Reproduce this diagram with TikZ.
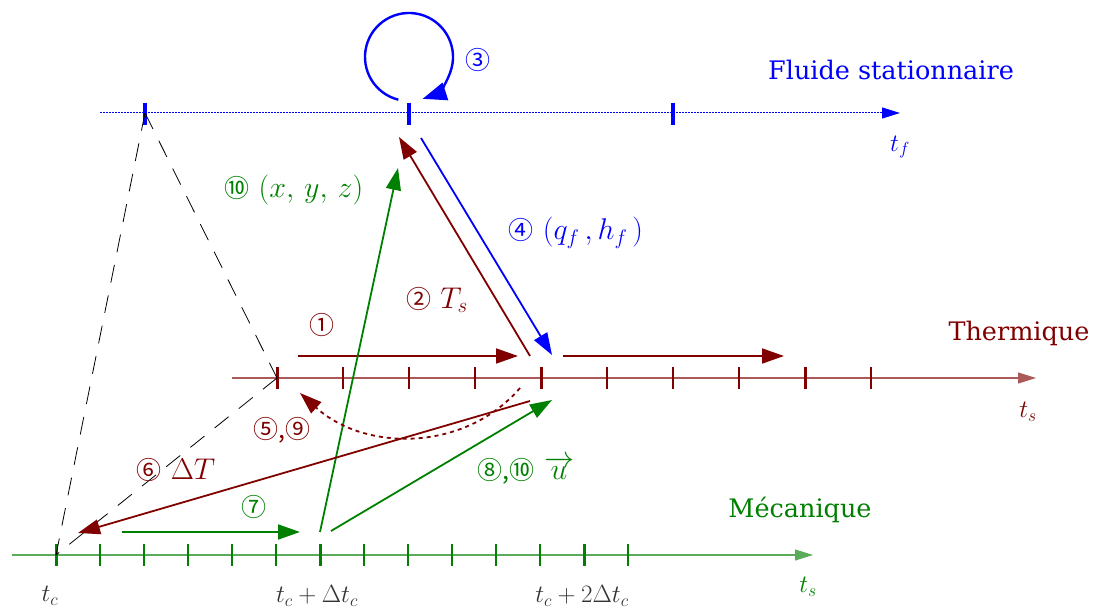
\RequirePackage{fix-cm}
\documentclass[tikz,border=0pt]{standalone}
\usepackage{fontspec}
\newfontfamily\cir{Noto Sans CJK SC}
\newfontfamily\wordfont{DejaVu Serif}
\usetikzlibrary{arrows.meta,calc}
\definecolor{fblue}{RGB}{0,0,255}
\definecolor{tred}{RGB}{128,0,0}
\definecolor{mgreen}{RGB}{0,128,0}
\newcommand{\cn}[1]{{\fontsize{25}{27}\selectfont\cir #1}}
\begin{document}
\begin{tikzpicture}[x=1pt,y=-1pt,
  arr/.style={line width=1.8pt,-{Triangle[length=22pt,width=15pt]}},
  axis/.style={line width=1.1pt,-{Triangle[length=18pt,width=11pt]}},
  bigtick/.style={line width=3pt},
  smalltick/.style={line width=1.4pt},
  guide/.style={black,line width=0.8pt,dash pattern=on 18pt off 13pt},
  word/.style={font=\fontsize{25.5}{28}\selectfont\wordfont},
  lab/.style={font=\fontsize{25}{28}\selectfont},
  mlab/.style={font=\fontsize{30}{32}\selectfont}]
\useasboundingbox (0,0) rectangle (1093,609);

% ---------- fluid axis ----------
\coordinate (fA) at (100,113);
\coordinate (fB) at (900,113);
\draw[fblue,line width=1pt,dash pattern=on 1.5pt off 1.5pt,-{Triangle[length=18pt,width=11pt]}] (fA) -- (fB);
\foreach \x/\n in {145/f1,409/f2,673/f3}{
  \coordinate (\n) at (\x,113);
  \draw[fblue,line width=4pt] (\x,103) -- (\x,125);
}
\node[lab,text=fblue] (tf) at (900,147) {$t_f$};
\node[word,text=fblue] (fluide) at (891,70) {Fluide stationnaire};

% ---------- thermal axis ----------
\coordinate (tA) at (232,378);
\coordinate (tB) at (1036,378);
\draw[axis,tred!65] (tA) -- (tB);
\foreach \x in {343,409,475,607,673,739,871}
  \draw[tred,smalltick] (\x,367) -- (\x,389);
\foreach \x/\n in {277/t0,541/t1,805/t2}{
  \coordinate (\n) at (\x,378);
  \draw[tred,bigtick] (\x,367) -- (\x,389);
}
\node[lab,text=tred] (ts1) at (1028,412) {$t_s$};
\node[word,text=tred] (thermique) at (1019,333) {Thermique};

% ---------- mechanical axis ----------
\coordinate (mA) at (12,555);
\coordinate (mB) at (813,555);
\draw[axis,mgreen!65] (mA) -- (mB);
\foreach \x in {100,144,188,232,276,364,408,452,496,540,628}
  \draw[mgreen,smalltick] (\x,544) -- (\x,566);
\foreach \x/\n in {56/m0,320/m1,584/m2}{
  \coordinate (\n) at (\x,555);
  \draw[mgreen,bigtick] (\x,544) -- (\x,566);
}
\node[lab,text=mgreen] (ts2) at (808,587) {$t_s$};
\node[word,text=mgreen] (meca) at (800,510) {Mécanique};
\node[lab,text=black!80] (l0) at (50,596) {$t_c$};
\node[lab,text=black!80] (l1) at (317,596) {$t_c+\Delta t_c$};
\node[lab,text=black!80] (l2) at (582,596) {$t_c+2\Delta t_c$};

% ---------- dashed guides ----------
\draw[guide] (f1) -- (m0);
\draw[guide] (f1) -- (t0);
\draw[guide] (t0) -- (m0);

% ---------- loop (3) ----------
\coordinate (loopc) at (409,57);
\draw[fblue,line width=2.4pt,-{Triangle[length=24pt,width=18pt]}]
  ($(loopc)+(104:44)$) arc[start angle=104,end angle=432,radius=44];
\node[text=fblue] (n3) at (478,60) {\cn{③}};

% ---------- endpoints ----------
\coordinate (a1s) at (298,356);  \coordinate (a1e) at (518,356);
\coordinate (a1bs) at (563,356); \coordinate (a1be) at (784,356);
\coordinate (a2s) at (530,356);  \coordinate (a2e) at (399,137);
\coordinate (a4s) at (421,138);  \coordinate (a4e) at (552,355);
\coordinate (a10s) at (320,532); \coordinate (a10e) at (398,168);
\coordinate (a5s) at (520,388);  \coordinate (a5e) at (300,393);
\coordinate (a6s) at (530,401);  \coordinate (a6e) at (78,533);
\coordinate (a7s) at (122,532);  \coordinate (a7e) at (300,532);
\coordinate (a8s) at (331,531);  \coordinate (a8e) at (552,400);

\draw[arr,tred] (a1s) -- (a1e);
\draw[arr,tred] (a1bs) -- (a1be);
\draw[arr,tred] (a2s) -- (a2e);
\draw[arr,fblue] (a4s) -- (a4e);
\draw[arr,mgreen] (a10s) -- (a10e);
\draw[arr,tred,dash pattern=on 4pt off 4pt] (a5s) .. controls (465,452) and (365,452) .. (a5e);
\draw[arr,tred] (a6s) -- (a6e);
\draw[arr,mgreen] (a7s) -- (a7e);
\draw[arr,mgreen] (a8s) -- (a8e);

% ---------- labels ----------
\node[mlab,text=tred] (lab1) at (322,325) {\cn{①}};
\node[mlab,text=tred] (lab2) at (437,300) {\cn{②}~$T_s$};
\node[mlab,text=fblue] (lab4) at (576,233) {\cn{④}~$(q_f\,,h_f\,)$};
\node[mlab,text=mgreen] (lab10) at (294,190) {\cn{⑩}~$(x,\,y,\,z)$};
\node[mlab,text=tred] (lab5) at (282,430) {\cn{⑤,⑨}};
\node[mlab,text=tred] (lab6) at (176,470) {\cn{⑥}~$\Delta T$};
\node[mlab,text=mgreen] (lab7) at (254,507) {\cn{⑦}};
\node[mlab,text=mgreen] (lab8) at (526,470) {\cn{⑧,⑩}~$\overrightarrow{u}$};
\end{tikzpicture}
\end{document}
